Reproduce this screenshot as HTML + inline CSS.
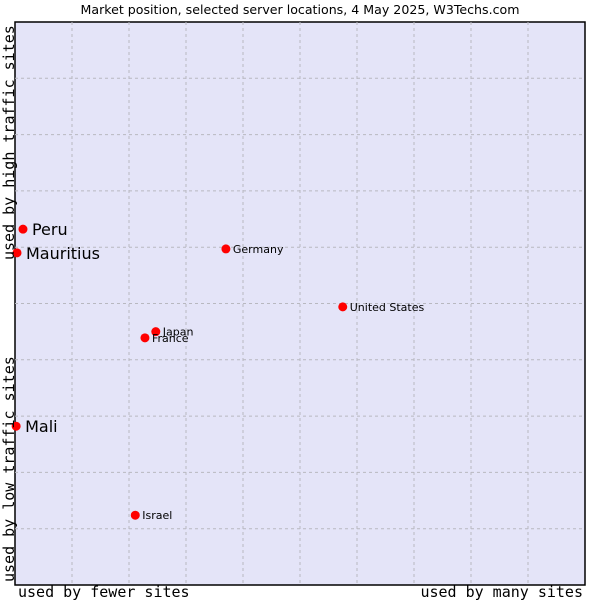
<!DOCTYPE html>
<html><head><meta charset="utf-8"><style>
body{margin:0;background:#fff;width:600px;height:600px;overflow:hidden}
svg text{font-family:"DejaVu Sans","Liberation Sans",sans-serif}
.mono{font-family:"DejaVu Sans Mono","Liberation Mono",monospace}
</style></head><body>
<svg id="chart" width="600" height="600">
<text x="300" y="14" text-anchor="middle" font-size="12.6" fill="#000">Market position, selected server locations, 4 May 2025, W3Techs.com</text>
<rect x="15" y="22" width="570" height="563" fill="#e4e4f8" stroke="#000" stroke-width="1.5"/>
<g id="grid"></g>
<g id="pts"></g>
<text class="mono" x="18" y="597" font-size="15" style="font-family:'DejaVu Sans Mono',monospace">used by fewer sites</text>
<text class="mono" x="583" y="597" text-anchor="end" font-size="15" style="font-family:'DejaVu Sans Mono',monospace">used by many sites</text>
<text class="mono" transform="translate(14,582) rotate(-90)" font-size="15" style="font-family:'DejaVu Sans Mono',monospace">used by low traffic sites</text>
<text class="mono" transform="translate(14,260) rotate(-90)" font-size="15" style="font-family:'DejaVu Sans Mono',monospace">used by high traffic sites</text>
</svg>
<script>
const names=["Peru","Mauritius","Germany","United States","Japan","France","Mali","Israel"];
const xs=[1.4,0.35,37.0,57.5,24.7,22.8,0.2,21.1];
const ys=[63.2,59.0,59.7,49.4,45.0,43.9,28.2,12.4];
const big=[true,true,false,false,false,false,true,false];
const L=15,T=22,W=570,H=563,ns="http://www.w3.org/2000/svg";
const sx=v=>L+v/100*W, sy=v=>T+H-v/100*H;
const g=document.getElementById('grid'),p=document.getElementById('pts');
for(let i=1;i<10;i++){
 const l=document.createElementNS(ns,'line');
 l.setAttribute('x1',sx(i*10));l.setAttribute('x2',sx(i*10));l.setAttribute('y1',T);l.setAttribute('y2',T+H);
 l.setAttribute('stroke','#b8b8c0');l.setAttribute('stroke-dasharray','3,3');
 
 
 g.appendChild(l);
 const m=document.createElementNS(ns,'line');
 m.setAttribute('y1',sy(i*10));m.setAttribute('y2',sy(i*10));m.setAttribute('x1',L);m.setAttribute('x2',L+W);
 m.setAttribute('stroke','#b8b8c0');m.setAttribute('stroke-dasharray','3,3');
 
 
 g.appendChild(m);
}
names.forEach((n,i)=>{
 const x=sx(xs[i]),y=sy(ys[i]);
 const c=document.createElementNS(ns,'circle');
 c.setAttribute('cx',x);c.setAttribute('cy',y);c.setAttribute('r',4.5);c.setAttribute('fill','#f00');
 
 
 p.appendChild(c);
 const t=document.createElementNS(ns,'text');
 t.setAttribute('x',x+(big[i]?9:7));t.setAttribute('y',y+(big[i]?6:4));
 t.setAttribute('font-size',big[i]?16:11);t.textContent=n;
 
 
 p.appendChild(t);
});
</script>
</body></html>
